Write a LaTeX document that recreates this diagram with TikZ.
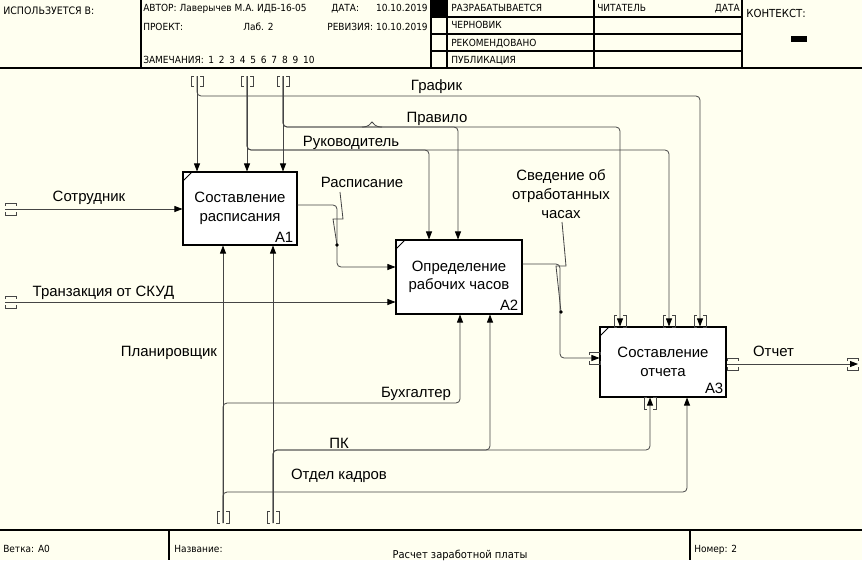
\documentclass[tikz,border=0pt]{standalone}
\usepackage{fontspec}
\setmainfont{Liberation Sans}
\newfontfamily\hdrfont[FakeStretch=0.92]{DejaVu Sans}
\usetikzlibrary{arrows.meta}
\definecolor{bgc}{HTML}{FFFFF0}
\definecolor{lnc}{HTML}{454545}
\newcommand\dgap{\kern3.6pt}
\newcommand\vtun[3]{%
  \draw[tunnel] (#1-3,#2) -- (#1-6,#2) -- (#1-6,#3) -- (#1-3,#3);
  \draw[tunnel] (#1+3,#2) -- (#1+6,#2) -- (#1+6,#3) -- (#1+3,#3);}
\newcommand\htun[3]{%
  \draw[tunnel] (#1,#3-3) -- (#1,#3-6) -- (#2,#3-6) -- (#2,#3-3);
  \draw[tunnel] (#1,#3+3) -- (#1,#3+6) -- (#2,#3+6) -- (#2,#3+3);}
\begin{document}
\begin{tikzpicture}[x=0.75pt,y=-0.75pt,
  lbl/.style={font=\fontsize{11.2}{13.9}\selectfont, inner sep=0pt, anchor=base},
  hdr/.style={font=\hdrfont\fontsize{7.35}{8}\selectfont, inner sep=0pt, anchor=base west},
  box/.style={draw=black, fill=white, line width=0.8pt, inner sep=0pt, align=center,
              font=\fontsize{11.2}{13.9}\selectfont},
  num/.style={font=\fontsize{11.2}{13.9}\selectfont, inner sep=0pt, anchor=base east},
  conn/.style={draw=lnc, line width=0.6pt, rounded corners=3pt},
  arr/.style={conn, -{Triangle[length=6pt,width=4.5pt,color=black]}},
  tunnel/.style={draw=lnc, line width=0.6pt},
  lead/.style={draw=lnc, line width=0.6pt},
  frame/.style={draw=black, line width=0.8pt}]
\fill[bgc] (0,0) rectangle (862,560);
\useasboundingbox (0,0) rectangle (862,560);

% ---------- header ----------
\draw[frame] (0,68) -- (862,68);
\draw[frame] (141,0) -- (141,68);
\draw[frame] (431,0) -- (431,68);
\draw[frame] (447,0) -- (447,68);
\draw[frame] (594,0) -- (594,68);
\draw[frame] (742,0) -- (742,68);
\foreach \yy in {17,34,51} \draw[frame] (431,\yy) -- (742,\yy);
\fill[black] (431,0) rectangle (447,17);
\fill[black] (791,36) rectangle (807,42);

\node[hdr, font=\hdrfont\fontsize{7.7}{8}\selectfont] (hUse) at (3,15) {ИСПОЛЬЗУЕТСЯ В:};
\node[hdr] (hAut) at (143,12) {АВТОР: Лаверычев М.А. ИДБ-16-05};
\node[hdr] (hDat) at (331,12) {ДАТА:};
\node[hdr,anchor=base east] (hDtv) at (428,12) {10.10.2019};
\node[hdr] (hPrj) at (143,30.5) {ПРОЕКТ:};
\node[hdr] (hLab) at (243,30.5) {Лаб. 2};
\node[hdr,anchor=base east] (hRev) at (428,30.5) {РЕВИЗИЯ: 10.10.2019};
\node[hdr] (hNot) at (143,64) {ЗАМЕЧАНИЯ:};
\node[hdr] (hNum) at (208,64) {1\dgap2\dgap3\dgap4\dgap5\dgap6\dgap7\dgap8\dgap9\dgap10};
\node[hdr] (hDev) at (451,12) {РАЗРАБАТЫВАЕТСЯ};
\node[hdr] (hRd) at (597,12) {ЧИТАТЕЛЬ};
\node[hdr,anchor=base east] (hRdD) at (740,12) {ДАТА};
\node[hdr] (hDr) at (451,29) {ЧЕРНОВИК};
\node[hdr] (hRec) at (451,47) {РЕКОМЕНДОВАНО};
\node[hdr] (hPub) at (451,64) {ПУБЛИКАЦИЯ};
\node[hdr, font=\hdrfont\fontsize{8.3}{9}\selectfont] (hCtx) at (746,18) {КОНТЕКСТ:};

% ---------- footer ----------
\draw[frame] (0,530) -- (862,530);
\draw[frame] (169,530) -- (169,560);
\draw[frame] (690,530) -- (690,560);
\node[hdr] (fBr) at (3,552) {Ветка: A0};
\node[hdr] (fNm) at (174,552) {Название:};
\node[hdr, anchor=base, font=\hdrfont\fontsize{8.1}{9}\selectfont] (fTt) at (460,558) {Расчет заработной платы};
\node[hdr] (fNo) at (694,552) {Номер: 2};

% ---------- activity boxes ----------
\node[box, minimum width=85.5pt, minimum height=54.75pt] (A1) at (240,208.5) {Составление\\расписания};
\node[box, minimum width=94.5pt, minimum height=55.5pt] (A2) at (459,277) {Определение\\рабочих часов};
\node[box, minimum width=94.5pt, minimum height=52.5pt] (A3) at (663,362) {Составление\\отчета};
\foreach \b in {A1,A2,A3}
  \draw[black, line width=0.6pt] ([shift={(0,10)}]\b.north west) -- ([shift={(10,0)}]\b.north west);
\node[num] (nA1) at ([shift={(-4,-3.5)}]A1.south east) {A1};
\node[num] (nA2) at ([shift={(-4,-4)}]A2.south east) {A2};
\node[num] (nA3) at ([shift={(-3,-4)}]A3.south east) {A3};

% ---------- coordinates ----------
\coordinate (tG) at (197,76);
\coordinate (tR) at (247,76);
\coordinate (tP) at (283,76);
\coordinate (gC) at (700,96);
\coordinate (pB) at (458,127);
\coordinate (pC) at (620,127);
\coordinate (rB) at (429,150);
\coordinate (rC) at (669,150);
\coordinate (bM) at (223,523);
\coordinate (bK) at (273,523);
\coordinate (bhC) at (460,403);
\coordinate (okC) at (687,492);
\coordinate (pkB) at (490,450);
\coordinate (pkC) at (650,450);
\coordinate (inS) at (5,209);
\coordinate (inT) at (5,302);
\coordinate (r1) at (337,205);
\coordinate (r2) at (337,267);
\coordinate (s1) at (560,264);
\coordinate (s2) at (560,358);
\coordinate (outO) at (858,364);

% ---------- controls ----------
\draw[arr] (tG) -- (tG |- A1.north);
\draw[arr] (tG) |- (gC) -- (gC |- A3.north);
\draw[arr] (tR) -- (tR |- A1.north);
\draw[arr] (tR) |- (rC) -- (rC |- A3.north);
\draw[arr] (tR) |- (rB) -- (rB |- A2.north);
\draw[arr] (tP) -- (tP |- A1.north);
\draw[arr] (tP) |- (pC) -- (pC |- A3.north);
\draw[arr] (tP) |- (pB) -- (pB |- A2.north);

% ---------- mechanisms ----------
\draw[arr] (bM) -- (bM |- A1.south);
\draw[arr] (bM) |- (bhC) -- (bhC |- A2.south);
\draw[arr] (bM) |- (okC) -- (okC |- A3.south);
\draw[arr] (bK) -- (bK |- A1.south);
\draw[arr] (bK) |- (pkC) -- (pkC |- A3.south);
\draw[arr] (bK) |- (pkB) -- (pkB |- A2.south);

% ---------- inputs / outputs ----------
\draw[arr] (inS) -- (inS -| A1.west);
\draw[arr] (inT) -- (inT -| A2.west);
\draw[arr] (r1 -| A1.east) -- (r1) -- (r2) -- (r2 -| A2.west);
\draw[arr] (s1 -| A2.east) -- (s1) -- (s2) -- (s2 -| A3.west);
\draw[arr] (outO -| A3.east) -- (outO);

% ---------- tunnels ----------
\vtun{197}{76}{86}
\vtun{247}{76}{86}
\vtun{283}{76}{86}
\vtun{223}{511}{523}
\vtun{273}{511}{523}
\vtun{620}{315}{327}
\vtun{669}{315}{327}
\vtun{700}{315}{327}
\vtun{650}{397}{409}
\htun{5}{16}{209}
\htun{5}{16}{302}
\htun{589}{600}{358}
\htun{727}{738}{364}
\htun{847}{858}{364}

% ---------- labels ----------
\node[lbl] (lSo) at (89,201.5) {Сотрудник};
\node[lbl] (lT) at (103.5,296) {Транзакция от СКУД};
\node[lbl] (lG) at (436.5,90.5) {График};
\node[lbl] (lP) at (437,122) {Правило};
\node[lbl] (lR) at (351,146) {Руководитель};
\node[lbl] (lRs) at (362,187) {Расписание};
\node[lbl, align=center] (lS) at (561,218) {Сведение об\\отработанных\\часах};
\node[lbl] (lB) at (416,397.5) {Бухгалтер};
\node[lbl] (lPK) at (339,448) {ПК};
\node[lbl] (lOK) at (339,479.5) {Отдел кадров};
\node[lbl] (lPl) at (169,356) {Планировщик};
\node[lbl] (lO) at (773.5,356) {Отчет};

% ---------- label leaders ----------
\draw[lead] (340,192) -- (343,219) -- (333,219) -- (337,245);
\fill[black] (337,245) circle (1.4pt);
\draw[lead] (562,222) -- (566,266) -- (556,266) -- (561,312);
\fill[black] (561,312) circle (1.4pt);
\draw[lead] (362,127) .. controls (369,127) and (370,124) .. (372,122) .. controls (374,124) and (375,127) .. (382,127);
\end{tikzpicture}
\end{document}
